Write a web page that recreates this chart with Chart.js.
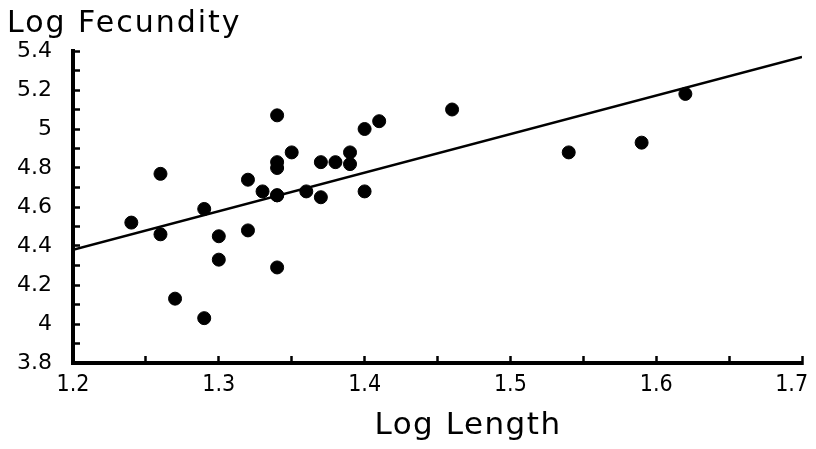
<!DOCTYPE html>
<html lang="en">
<head>
  <meta charset="UTF-8">
  <title>Log Fecundity vs Log Length</title>
  <style>
    html, body { margin: 0; padding: 0; background: #fff; }
    .chart-box { width: 816px; height: 449px; position: relative; }
  </style>
</head>
<body>
  <div class="chart-box">
    <canvas id="fecChart"></canvas>
  </div>

  <script src="https://cdn.jsdelivr.net/npm/chart.js"></script>
  <script>
    // values
    const logLength = [1.24, 1.26, 1.26, 1.27, 1.29, 1.29, 1.30, 1.30, 1.32, 1.32,
                       1.33, 1.34, 1.34, 1.34, 1.34, 1.34, 1.35, 1.36, 1.37, 1.37,
                       1.38, 1.39, 1.39, 1.40, 1.40, 1.41, 1.46, 1.54, 1.59, 1.62, 1.34];
    const logFecundity = [4.52, 4.77, 4.46, 4.13, 4.59, 4.03, 4.45, 4.33, 4.74, 4.48,
                          4.68, 4.66, 4.29, 4.83, 4.80, 5.07, 4.88, 4.68, 4.65, 4.83,
                          4.83, 4.88, 4.82, 4.68, 5.00, 5.04, 5.10, 4.88, 4.93, 5.18, 4.66];

    // fitted line end points
    const fitX = [1.2, 1.7];
    const fitY = [4.38, 5.37];

    const xTickLabels = ['1.2', '1.3', '1.4', '1.5', '1.6', '1.7'];
    const yTickLabels = ['3.8', '4', '4.2', '4.4', '4.6', '4.8', '5', '5.2', '5.4'];

    function pickLabel(list, v) {
      const hit = list.find(l => Math.abs(parseFloat(l) - v) < 1e-6);
      return hit === undefined ? '' : hit;
    }

    // axis titles drawn as plain text
    const axisTitles = {
      id: 'axisTitles',
      afterDraw(chart) {
        const c = chart.ctx;
        c.save();
        c.fillStyle = '#000';
        c.textBaseline = 'alphabetic';
        c.font = '30px "DejaVu Sans"';
        c.letterSpacing = '2px';
        c.textAlign = 'left';
        c.fillText('Log Fecundity', 7, 32);
        c.font = '31px "DejaVu Sans"';
        c.letterSpacing = '1.5px';
        c.textAlign = 'center';
        c.fillText('Log Length', 468, 434);
        c.restore();
      }
    };

    const ctx = document.getElementById('fecChart').getContext('2d');
    new Chart(ctx, {
      type: 'scatter',
      data: {
        datasets: [
          {
            label: 'Fit',
            data: fitX.map((x, i) => ({ x: x, y: fitY[i] })),
            showLine: true,
            borderColor: '#000',
            borderWidth: 2.5,
            pointRadius: 0
          },
          {
            label: 'Fish',
            data: logLength.map((x, i) => ({ x: x, y: logFecundity[i] })),
            backgroundColor: '#000',
            borderColor: '#000',
            pointRadius: 6.5,
            pointHoverRadius: 6.5
          }
        ]
      },
      options: {
        responsive: true,
        maintainAspectRatio: false,
        animation: false,
        layout: { padding: { left: 0, right: 14, top: 51, bottom: 0 } },
        plugins: {
          legend: { display: false },
          tooltip: { enabled: false }
        },
        scales: {
          x: {
            type: 'linear',
            min: 1.2,
            max: 1.7,
            border: { display: true, width: 4, color: '#000' },
            grid: { drawOnChartArea: false, tickLength: -7, tickWidth: 2.5, tickColor: '#000' },
            ticks: {
              stepSize: 0.05,
              autoSkip: false,
              maxRotation: 0,
              color: '#000',
              padding: 15,
              font: { family: '"DejaVu Sans Condensed", "DejaVu Sans"', size: 23 },
              callback: v => {
                const lab = pickLabel(xTickLabels, v);
                // last label sits left of its tick, as in the print
                return lab === xTickLabels[xTickLabels.length - 1] ? lab + '\u2002\u2002' : lab;
              }
            },
            afterFit: s => { s.height = 86; s.paddingLeft = 0; s.paddingRight = 0; }
          },
          y: {
            type: 'linear',
            min: 3.8,
            max: 5.4,
            border: { display: true, width: 4, color: '#000' },
            grid: { drawOnChartArea: false, tickLength: -7, tickWidth: 2.5, tickColor: '#000' },
            ticks: {
              stepSize: 0.1,
              autoSkip: false,
              color: '#000',
              padding: 28,
              font: { family: '"DejaVu Sans"', size: 22 },
              callback: v => pickLabel(yTickLabels, v)
            },
            afterFit: s => { s.width = 73; s.paddingTop = 0; s.paddingBottom = 0; }
          }
        }
      },
      plugins: [axisTitles]
    });
  </script>
</body>
</html>
